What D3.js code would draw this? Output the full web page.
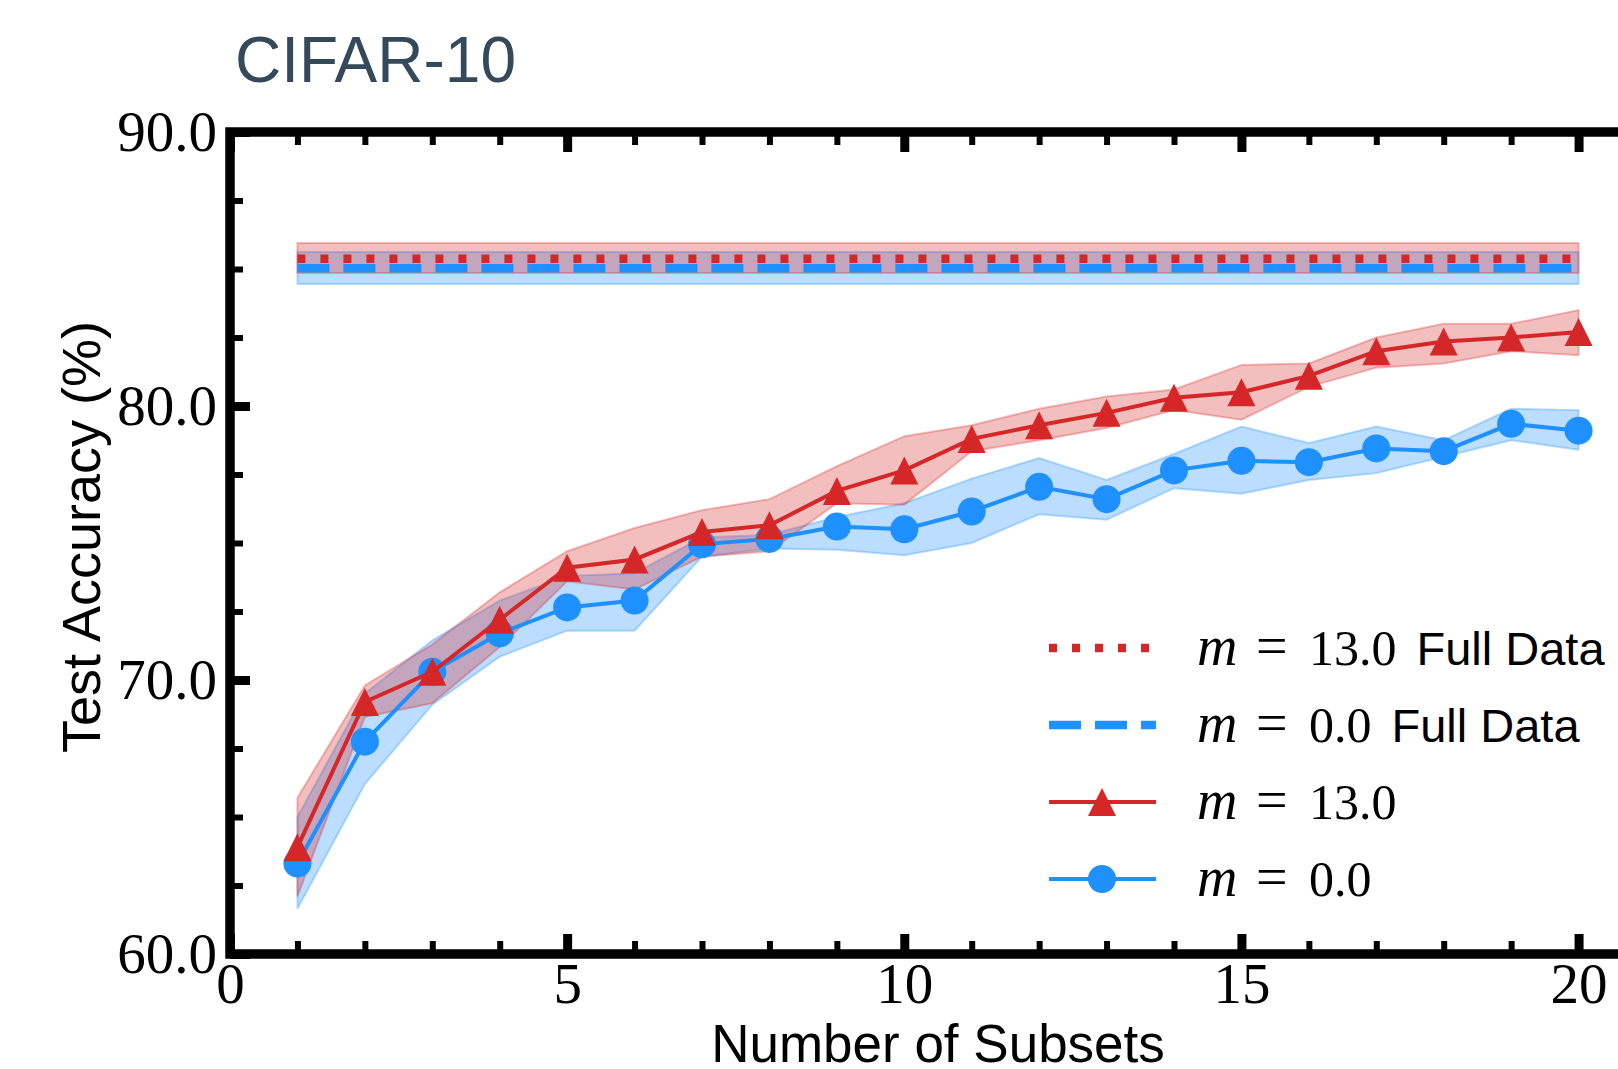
<!DOCTYPE html>
<html>
<head>
<meta charset="utf-8">
<script src="https://cdn.jsdelivr.net/npm/d3@7"></script>
<style>
body { margin: 0; background: #fff; }
svg { display: block; }
</style>
</head>
<body>
<div id="chart_place"></div>
<script>
// data
var subsets = [1, 2, 3, 4, 5, 6, 7, 8, 9, 10, 11, 12, 13, 14, 15, 16, 17, 18, 19, 20];

var accM13     = [63.9, 69.2, 70.3, 72.2, 74.1, 74.4, 75.4, 75.65, 76.9, 77.65, 78.8, 79.3, 79.75, 80.3, 80.5, 81.1, 82.0, 82.35, 82.5, 82.7];
var accM13Low  = [62.1, 68.65, 69.15, 71.2, 73.6, 73.3, 74.5, 74.7, 76.45, 76.4, 78.35, 78.75, 79.2, 79.85, 79.5, 80.7, 81.4, 81.55, 82.0, 81.85];
var accM13High = [65.7, 69.8, 71.3, 73.2, 74.7, 75.55, 76.2, 76.6, 77.8, 78.9, 79.3, 79.9, 80.35, 80.6, 81.5, 81.55, 82.5, 83.0, 83.0, 83.5];

var accM0     = [63.3, 67.75, 70.3, 71.7, 72.65, 72.9, 74.95, 75.15, 75.6, 75.5, 76.15, 77.05, 76.6, 77.65, 78.0, 77.95, 78.45, 78.35, 79.35, 79.1];
var accM0Low  = [61.65, 66.2, 69.1, 70.85, 71.8, 71.8, 74.5, 74.8, 74.75, 74.55, 75.0, 76.05, 75.85, 77.0, 76.8, 77.3, 77.55, 78.15, 78.75, 78.4];
var accM0High = [65.0, 69.5, 71.45, 72.9, 73.8, 73.9, 75.2, 75.3, 75.95, 76.45, 77.35, 78.1, 77.3, 78.25, 79.25, 78.65, 79.25, 78.75, 79.9, 79.85];

// full data runs (mean, low, high)
var fullM13 = [85.37, 84.85, 85.95];
var fullM0  = [85.03, 84.45, 85.62];

var xTicks = [0, 5, 10, 15, 20];
var xMinor = [1, 2, 3, 4, 6, 7, 8, 9, 11, 12, 13, 14, 16, 17, 18, 19];
var yTicks = [60, 70, 80, 90];
var yMinor = [62.5, 65, 67.5, 72.5, 75, 77.5, 82.5, 85, 87.5];

var legendM      = ['13.0', '0.0', '13.0', '0.0'];
var legendSuffix = ['Full Data', 'Full Data', '', ''];

var RED = '#d62728', BLUE = '#1e90ff';

var W = 1618, H = 1069;
var axLeft = 230, axTop = 132, axBottom = 954, axRight = 1646;

var svg = d3.select('#chart_place').append('svg')
    .attr('width', W).attr('height', H);

var x = d3.scaleLinear().domain([0, 21]).range([axLeft, axRight]);
var y = d3.scaleLinear().domain([60, 90]).range([axBottom, axTop]);

// title
svg.append('text')
    .attr('x', 235).attr('y', 82)
    .style('font-family', '"Liberation Sans", Arial, sans-serif')
    .style('font-size', '64px')
    .style('fill', '#34495a')
    .text('CIFAR-10');

var plot = svg.append('g');

var area = function(lo, hi){
  return d3.area()
    .x(function(d, i){ return x(subsets[i]); })
    .y0(function(d, i){ return y(lo[i]); })
    .y1(function(d, i){ return y(hi[i]); });
};
var line = function(vals){
  return d3.line()
    .x(function(d, i){ return x(subsets[i]); })
    .y(function(d, i){ return y(vals[i]); });
};
var flat = function(v){ return subsets.map(function(){ return v; }); };

// shaded bands
var bands = [
  [flat(fullM0[1]), flat(fullM0[2]), BLUE],
  [flat(fullM13[1]), flat(fullM13[2]), RED],
  [accM0Low, accM0High, BLUE],
  [accM13Low, accM13High, RED]
];
bands.forEach(function(b){
  plot.append('path')
    .attr('d', area(b[0], b[1])(subsets))
    .style('fill', b[2]).style('fill-opacity', 0.3)
    .style('stroke', b[2]).style('stroke-opacity', 0.3).style('stroke-width', 2);
});

// full data lines
plot.append('path')
    .attr('d', line(flat(fullM0[0]))(subsets))
    .style('fill', 'none').style('stroke', BLUE)
    .style('stroke-width', 8.5).style('stroke-dasharray', '32 14');
plot.append('path')
    .attr('d', line(flat(fullM13[0]))(subsets))
    .style('fill', 'none').style('stroke', RED)
    .style('stroke-width', 8.5).style('stroke-dasharray', '8 15');

var triangle = 'M0,-14L14,14L-14,14Z';

// m = 0.0
plot.append('path')
    .attr('d', line(accM0)(subsets))
    .style('fill', 'none').style('stroke', BLUE).style('stroke-width', 4);
plot.selectAll('circle.m0')
    .data(accM0).enter().append('circle')
    .attr('class', 'm0')
    .attr('cx', function(d, i){ return x(subsets[i]); })
    .attr('cy', function(d){ return y(d); })
    .attr('r', 14)
    .style('fill', BLUE);

// m = 13.0
plot.append('path')
    .attr('d', line(accM13)(subsets))
    .style('fill', 'none').style('stroke', RED).style('stroke-width', 4);
plot.selectAll('path.m13')
    .data(accM13).enter().append('path')
    .attr('class', 'm13')
    .attr('d', triangle)
    .attr('transform', function(d, i){ return 'translate(' + x(subsets[i]) + ',' + y(d) + ')'; })
    .style('fill', RED);

// axes: inward ticks, no domain line
var tickFont = '"Liberation Serif", "Times New Roman", serif';
var styleAxis = function(g, w){
  g.select('.domain').remove();
  g.selectAll('line').style('stroke', '#000').style('stroke-width', w);
  g.selectAll('text').style('font-family', tickFont).style('font-size', '57px').style('fill', '#000');
};

svg.append('g').attr('transform', 'translate(0,' + axBottom + ')')
    .call(d3.axisBottom(x).tickValues(xTicks).tickSize(-20).tickPadding(9).tickFormat(d3.format('d')))
    .call(styleAxis, 9);
svg.append('g').attr('transform', 'translate(0,' + axBottom + ')')
    .call(d3.axisBottom(x).tickValues(xMinor).tickSize(-13).tickFormat(''))
    .call(styleAxis, 6);
svg.append('g').attr('transform', 'translate(0,' + axTop + ')')
    .call(d3.axisTop(x).tickValues(xTicks).tickSize(-20).tickFormat(''))
    .call(styleAxis, 9);
svg.append('g').attr('transform', 'translate(0,' + axTop + ')')
    .call(d3.axisTop(x).tickValues(xMinor).tickSize(-13).tickFormat(''))
    .call(styleAxis, 6);
svg.append('g').attr('transform', 'translate(' + axLeft + ',0)')
    .call(d3.axisLeft(y).tickValues(yTicks).tickSize(-20).tickPadding(13).tickFormat(d3.format('.1f')))
    .call(styleAxis, 9);
svg.append('g').attr('transform', 'translate(' + axLeft + ',0)')
    .call(d3.axisLeft(y).tickValues(yMinor).tickSize(-13).tickFormat(''))
    .call(styleAxis, 6);

// spines
svg.append('rect')
    .attr('x', axLeft).attr('y', axTop)
    .attr('width', axRight - axLeft).attr('height', axBottom - axTop)
    .style('fill', 'none').style('stroke', '#000').style('stroke-width', 9.5);

// axis labels
var labelFont = '"Liberation Sans", Arial, sans-serif';
svg.append('text')
    .attr('x', (axLeft + axRight) / 2).attr('y', 1062)
    .attr('text-anchor', 'middle')
    .style('font-family', labelFont).style('font-size', '53px')
    .text('Number of Subsets');
svg.append('text')
    .attr('transform', 'translate(100,537) rotate(-90)')
    .attr('text-anchor', 'middle')
    .style('font-family', labelFont).style('font-size', '54px')
    .text('Test Accuracy (%)');

// legend
var legendStyle = [
  {color: RED, dash: '8 15', width: 8.5, marker: null},
  {color: BLUE, dash: '32 14', width: 8.5, marker: null},
  {color: RED, dash: null, width: 4, marker: 'tri'},
  {color: BLUE, dash: null, width: 4, marker: 'dot'}
];
var legend = svg.append('g');
legendM.forEach(function(m, i){
  var cy = 648 + i * 77;
  var st = legendStyle[i];
  var g = legend.append('g');
  g.append('line')
      .attr('x1', 1049).attr('x2', 1156).attr('y1', cy).attr('y2', cy)
      .style('stroke', st.color).style('stroke-width', st.width)
      .style('stroke-dasharray', st.dash);
  if (st.marker == 'tri')
    g.append('path').attr('d', triangle).attr('transform', 'translate(1102,' + cy + ')').style('fill', st.color);
  if (st.marker == 'dot')
    g.append('circle').attr('cx', 1102).attr('cy', cy).attr('r', 14).style('fill', st.color);

  var t = g.append('text').attr('x', 1197).attr('y', cy + 17)
      .style('font-family', tickFont).style('font-size', '50px');
  t.append('tspan').style('font-style', 'italic').style('font-size', '56px').text('m');
  t.append('tspan').attr('x', 1256).style('font-size', '56px').text('=');
  t.append('tspan').attr('x', 1309).text(m);
  if (legendSuffix[i])
    t.append('tspan').attr('dx', 20).style('font-family', labelFont).style('font-size', '47px').text(legendSuffix[i]);
});
</script>
</body>
</html>
